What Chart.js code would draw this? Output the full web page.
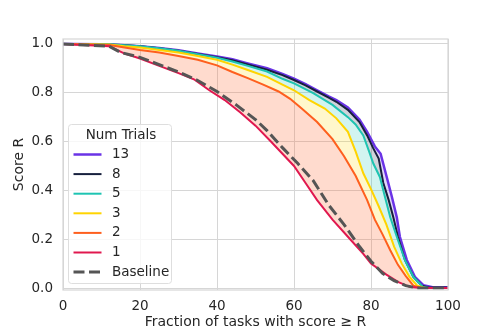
<!DOCTYPE html>
<html>
<head>
  <script src="https://cdn.jsdelivr.net/npm/chart.js"></script>
  <title>Score curves</title>
  <style>
    html, body { margin: 0; padding: 0; background: #fff; }
    #wrap { width: 498px; height: 332px; position: relative; }
  </style>
</head>
<body>
  <div id="wrap"><canvas id="chart" width="498" height="332"></canvas></div>

  <script>
    // [fraction of tasks %, score R]
    const trials1 = [[0,1.0],[12,0.99],[16,0.96],[20,0.94],[25,0.91],[30,0.88],[34,0.855],[38,0.81],[42,0.77],[46,0.72],[50,0.665],[54,0.60],[57,0.55],[60,0.50],[63,0.43],[66,0.36],[70,0.28],[74,0.21],[78,0.14],[80,0.10],[84,0.055],[87,0.025],[90,0.005],[93,0.0],[100,0.0]];
    const trials2 = [[0,1.0],[12,0.995],[16,0.985],[20,0.975],[25,0.965],[30,0.95],[35,0.935],[40,0.912],[44,0.885],[48,0.86],[52,0.833],[56,0.805],[59,0.775],[62,0.735],[66,0.68],[70,0.61],[73,0.54],[76,0.46],[79,0.36],[81,0.28],[83,0.22],[85,0.155],[87,0.095],[89,0.05],[91,0.01],[93,0.0],[100,0.0]];
    const trials3 = [[0,1.0],[12,0.997],[16,0.99],[20,0.985],[25,0.975],[30,0.965],[35,0.95],[40,0.935],[44,0.915],[48,0.893],[53,0.865],[57,0.833],[60,0.81],[64,0.77],[68,0.735],[71,0.695],[74,0.64],[76,0.56],[78,0.47],[80,0.405],[82,0.335],[84,0.26],[86,0.17],[88,0.10],[90,0.046],[92,0.01],[94,0.0],[100,0.0]];
    const trials5 = [[0,1.0],[12,0.998],[20,0.99],[25,0.982],[30,0.972],[35,0.958],[40,0.943],[44,0.928],[48,0.91],[53,0.887],[57,0.857],[60,0.838],[65,0.798],[70,0.75],[74,0.70],[76,0.67],[78,0.625],[79.5,0.56],[80.6,0.51],[82.3,0.455],[83.6,0.375],[85,0.29],[86.7,0.21],[88.8,0.115],[91,0.046],[93.5,0.005],[95,0.0],[100,0.0]];
    const trials8 = [[0,1.0],[10,0.998],[15,0.995],[20,0.99],[25,0.982],[30,0.972],[35,0.959],[40,0.945],[44,0.933],[48,0.916],[53,0.894],[57,0.872],[60,0.852],[63,0.83],[66,0.805],[69,0.78],[71,0.763],[74,0.73],[77,0.68],[79,0.625],[80.5,0.575],[82,0.53],[83.2,0.43],[84.6,0.36],[85.8,0.29],[87,0.21],[88.8,0.115],[91,0.046],[93.2,0.01],[95,0.002],[100,0.002]];
    const trials13 = [[0,1.0],[2,1.0],[10,0.998],[15,0.995],[20,0.99],[25,0.983],[30,0.974],[35,0.961],[40,0.948],[44,0.937],[48,0.92],[53,0.9],[57,0.877],[60,0.858],[63,0.835],[66,0.81],[69,0.785],[71,0.77],[74,0.74],[77,0.69],[79,0.64],[81,0.58],[82.5,0.55],[84,0.46],[85.4,0.375],[86.7,0.29],[87.5,0.21],[89.3,0.115],[91.4,0.046],[93.6,0.012],[96,0.003],[100,0.003]];
    const baseline = [[0,1.0],[12,0.99],[15,0.965],[20,0.945],[25,0.915],[30,0.885],[35,0.85],[40,0.805],[45,0.75],[50,0.69],[53,0.645],[57,0.575],[61,0.51],[65,0.44],[69,0.34],[73,0.26],[77,0.17],[80,0.11],[83,0.06],[86,0.03],[89,0.01],[92,0.0],[100,0.0]];

    const xTicks = [0, 20, 40, 60, 80, 100];
    const yTicks = [0, 0.2, 0.4, 0.6, 0.8, 1.0];
    const legendLabels = ['13', '8', '5', '3', '2', '1', 'Baseline'];

    const FONT = "'DejaVu Sans', sans-serif";
    const TEXT = '#262626';
    const GRID = '#d6d6d6';

    const toPoints = arr => arr.map(p => ({ x: p[0], y: p[1] }));

    function series(label, pts, color, fillColor, width) {
      return {
        label: label,
        data: toPoints(pts),
        borderColor: color,
        backgroundColor: fillColor || 'transparent',
        borderWidth: width || 2,
        fill: fillColor ? '-1' : false,
        pointRadius: 0,
        tension: 0
      };
    }

    // index 0 is drawn last (on top)
    const datasets = [
      Object.assign(series('Baseline', baseline, '#555555', null, 3), { borderDash: [11, 4.5] }),
      series('1', trials1, '#e0184f', null, 2),
      series('2', trials2, '#fe5f1e', 'rgba(255,110,60,0.25)', 2),
      series('3', trials3, '#ffd400', 'rgba(255,213,0,0.2)', 2),
      series('5', trials5, '#1ec4b2', 'rgba(32,200,180,0.2)', 2),
      series('8', trials8, '#17203d', 'rgba(26,35,64,0.2)', 2),
      series('13', trials13, '#6a33e6', 'rgba(106,51,230,0.2)', 2.5)
    ];

    // box round the plot area
    const frame = {
      id: 'frame',
      afterDraw(chart) {
        const a = chart.chartArea, ctx = chart.ctx;
        ctx.save();
        ctx.strokeStyle = GRID;
        ctx.lineWidth = 1.2;
        ctx.strokeRect(a.left, a.top, a.right - a.left, a.bottom - a.top);
        ctx.restore();
      }
    };

    // legend inside the plot, lower left
    const innerLegend = {
      id: 'innerLegend',
      afterDraw(chart) {
        const ctx = chart.ctx;
        const x0 = 68.5, y0 = 124.5, w = 103, h = 159;
        ctx.save();
        ctx.fillStyle = 'rgba(255,255,255,0.8)';
        ctx.strokeStyle = '#dedede';
        ctx.lineWidth = 1;
        ctx.beginPath();
        ctx.roundRect(x0, y0, w, h, 3);
        ctx.fill();
        ctx.stroke();

        ctx.fillStyle = TEXT;
        ctx.font = '13.5px ' + FONT;
        ctx.textAlign = 'center';
        ctx.textBaseline = 'middle';
        ctx.fillText('Num Trials', x0 + w / 2 + 1, 135);

        ctx.textAlign = 'left';
        legendLabels.forEach((lab, i) => {
          const ds = chart.data.datasets.find(d => d.label === lab);
          const y = 154.5 + i * 19.6;
          ctx.strokeStyle = ds.borderColor;
          ctx.lineWidth = ds.borderWidth;
          ctx.setLineDash(ds.borderDash || []);
          ctx.beginPath();
          ctx.moveTo(73.5, y);
          ctx.lineTo(101.5, y);
          ctx.stroke();
          ctx.setLineDash([]);
          ctx.fillStyle = TEXT;
          ctx.fillText(lab, 112, y);
        });
        ctx.restore();
      }
    };

    new Chart(document.getElementById('chart'), {
      type: 'line',
      data: { datasets: datasets },
      options: {
        responsive: false,
        animation: false,
        layout: { padding: { top: 39, right: 50, left: 0, bottom: 0 } },
        plugins: { legend: { display: false }, tooltip: { enabled: false } },
        scales: {
          x: {
            type: 'linear',
            min: 0,
            max: 100,
            afterBuildTicks: s => { s.ticks = xTicks.map(v => ({ value: v })); },
            afterFit: s => { s.height = 42; },
            grid: { color: GRID, drawTicks: false, lineWidth: 1 },
            border: { display: false },
            ticks: { padding: 8, color: TEXT, font: { family: FONT, size: 13.5 } },
            title: {
              display: true,
              text: 'Fraction of tasks with score ≥ R',
              color: TEXT,
              font: { family: FONT, size: 14 },
              padding: { top: 0, bottom: 1 }
            }
          },
          y: {
            min: -0.008,
            max: 1.02,
            afterBuildTicks: s => { s.ticks = yTicks.map(v => ({ value: v })); },
            afterFit: s => { s.width = 63; },
            grid: { color: GRID, drawTicks: false, lineWidth: 1 },
            border: { display: false },
            ticks: {
              padding: 10,
              color: TEXT,
              font: { family: FONT, size: 13.5 },
              callback: v => v.toFixed(1)
            },
            title: {
              display: true,
              text: 'Score R',
              color: TEXT,
              font: { family: FONT, size: 14 },
              padding: { top: 11, bottom: 0 }
            }
          }
        }
      },
      plugins: [frame, innerLegend]
    });
  </script>
</body>
</html>
